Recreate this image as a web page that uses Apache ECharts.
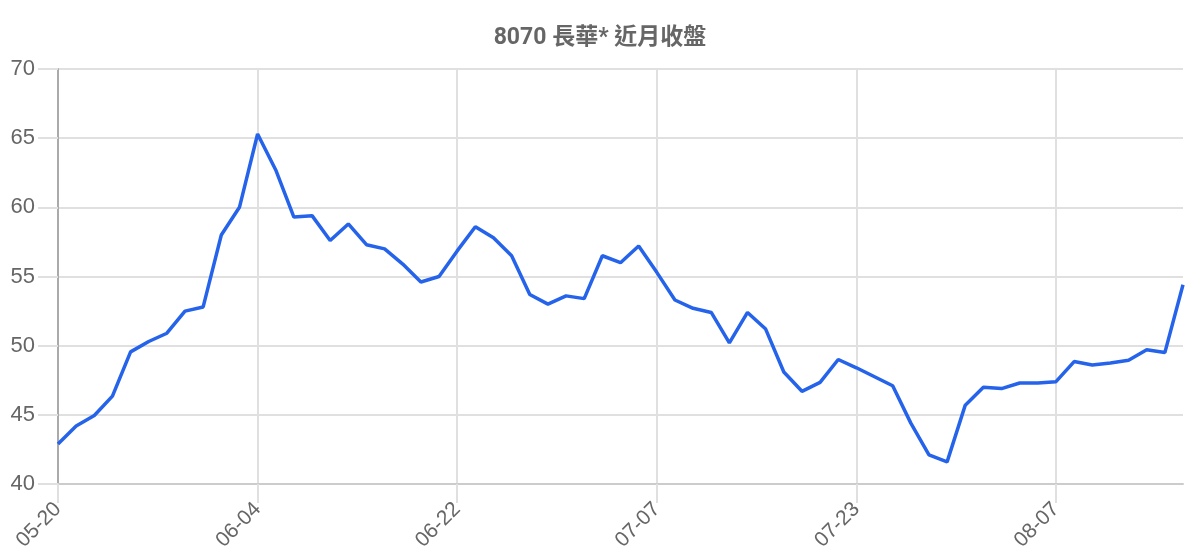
<!DOCTYPE html>
<html>
<head>
  <meta charset="UTF-8">
  <script src="https://cdn.jsdelivr.net/npm/echarts@6/dist/echarts.min.js"></script>
  <title>8070 長華* 近月收盤</title>
  <style>
    html, body { margin: 0; padding: 0; background: #fff; }
    #chart { width: 1200px; height: 560px; }
  </style>
</head>
<body>
  <div id="chart"></div>
  <script>
    const titleText = '8070 長華* 近月收盤';

    const dates = [
      '05-20', '05-21', '05-22', '05-23', '05-24', '05-27', '05-28', '05-29', '05-30', '05-31',
      '06-03', '06-04', '06-05', '06-06', '06-10', '06-11', '06-12', '06-13', '06-14', '06-17',
      '06-19', '06-21', '06-22', '06-24', '06-25', '06-26', '06-27', '06-28', '07-01', '07-02',
      '07-03', '07-04', '07-05', '07-07', '07-08', '07-09', '07-10', '07-11', '07-12', '07-15',
      '07-16', '07-17', '07-18', '07-19', '07-23', '07-24', '07-25', '07-26', '07-29', '07-30',
      '07-31', '08-01', '08-02', '08-05', '08-06', '08-07', '08-08', '08-09', '08-12', '08-13',
      '08-14', '08-15', '08-16'
    ];

    const closes = [
      42.9, 44.2, 44.95, 46.35, 49.55, 50.3, 50.9, 52.5, 52.8, 58.0,
      60.0, 65.3, 62.7, 59.3, 59.4, 57.6, 58.8, 57.3, 57.0, 55.9,
      54.6, 55.0, 56.85, 58.6, 57.8, 56.5, 53.7, 53.0, 53.6, 53.4,
      56.5, 56.0, 57.2, 55.3, 53.3, 52.7, 52.4, 50.2, 52.4, 51.2,
      48.1, 46.7, 47.35, 49.0, 48.4, 47.75, 47.1, 44.4, 42.1, 41.6,
      45.7, 47.0, 46.9, 47.3, 47.3, 47.4, 48.85, 48.6, 48.75, 48.95,
      49.7, 49.5, 54.4
    ];

    const chart = echarts.init(document.getElementById('chart'));
    chart.setOption({
      animation: false,
      textStyle: { fontFamily: '"Liberation Sans", Arial, "Noto Sans CJK TC", sans-serif' },
      title: {
        text: titleText,
        left: 'center',
        top: 22,
        textStyle: {
          fontSize: 23, fontWeight: 'bold', color: '#666',
          fontFamily: 'Roboto, "Noto Sans CJK TC", sans-serif'
        }
      },
      grid: { left: 58, right: 17, top: 69, bottom: 76, containLabel: false },
      xAxis: {
        type: 'category',
        data: dates,
        boundaryGap: false,
        axisLine: { lineStyle: { color: '#ccc', width: 2 } },
        axisTick: { show: true, interval: 10, length: 19, lineStyle: { color: '#e0e0e0', width: 2 } },
        axisLabel: { interval: 10, rotate: 45, margin: 22, fontSize: 21, color: '#666' },
        splitLine: { show: true, interval: 10, lineStyle: { color: '#e0e0e0', width: 2 } }
      },
      yAxis: {
        type: 'value',
        min: 40,
        max: 70,
        interval: 5,
        axisLine: { show: true, lineStyle: { color: '#aaa', width: 2 } },
        axisTick: { show: true, length: 20, lineStyle: { color: '#e0e0e0', width: 2 } },
        axisLabel: { margin: 23, fontSize: 22, color: '#666' },
        splitLine: { lineStyle: { color: '#e0e0e0', width: 2 } }
      },
      series: [{
        type: 'line',
        data: closes,
        showSymbol: false,
        lineStyle: { color: '#2563eb', width: 3.5 },
        itemStyle: { color: '#2563eb' }
      }]
    });
  </script>
</body>
</html>
